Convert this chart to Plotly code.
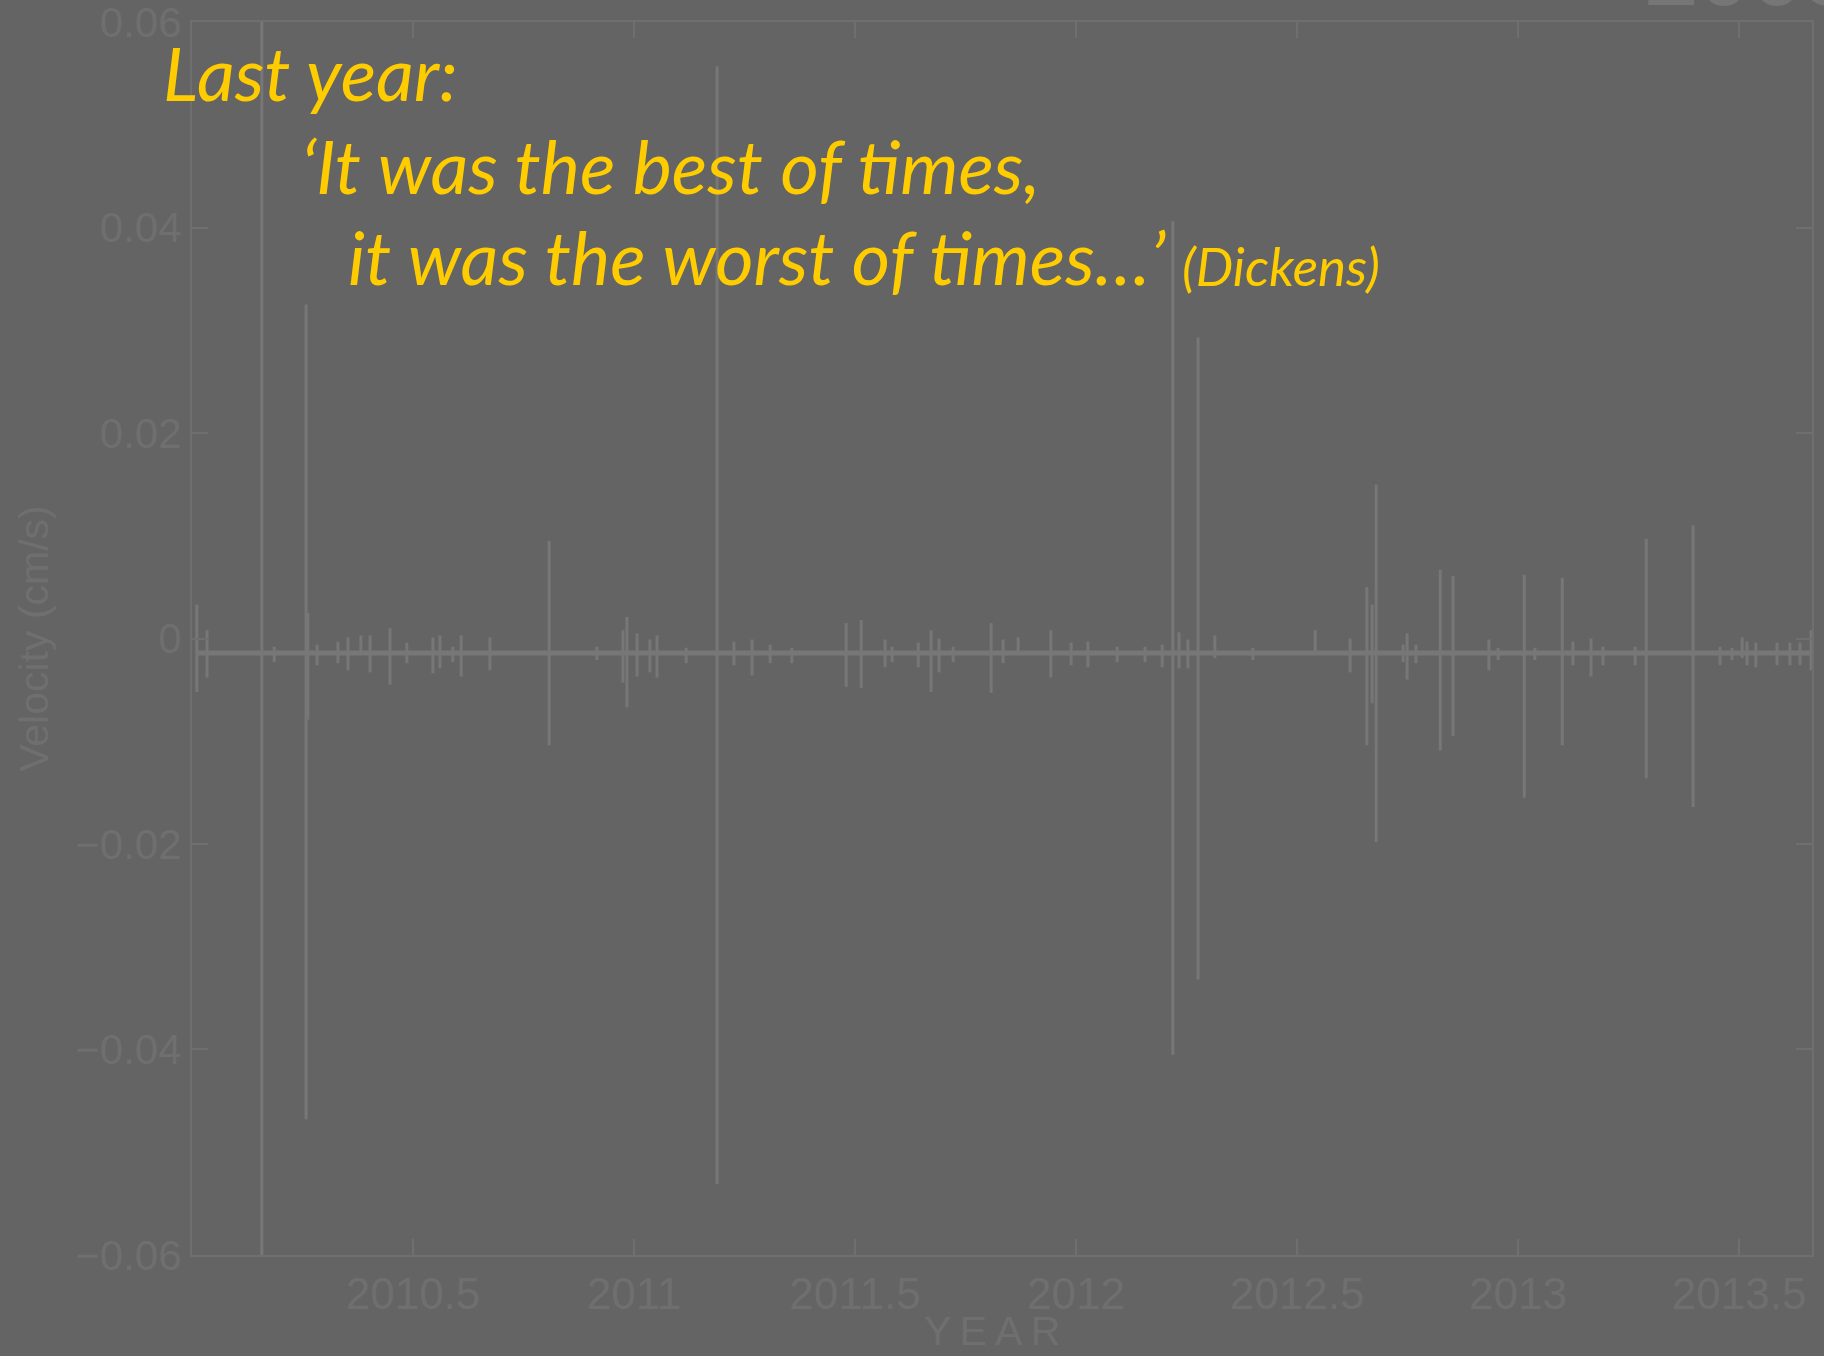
import plotly.graph_objects as go

# velocity record (year, top of spike, bottom of spike) in cm/s
BASELINE = -0.0014
baseline_years = [2010.011, 2013.665]

spike_year = [2010.011, 2010.034, 2010.158, 2010.186, 2010.258, 2010.262, 2010.283, 2010.330,
              2010.353, 2010.382, 2010.403, 2010.448, 2010.486, 2010.545, 2010.561, 2010.590,
              2010.609, 2010.674, 2010.808, 2010.916, 2010.975, 2010.984, 2011.007, 2011.036,
              2011.052, 2011.118, 2011.188, 2011.226, 2011.267, 2011.308, 2011.357, 2011.480,
              2011.514, 2011.568, 2011.584, 2011.643, 2011.672, 2011.690, 2011.722, 2011.808,
              2011.835, 2011.869, 2011.943, 2011.989, 2012.027, 2012.093, 2012.156, 2012.195,
              2012.219, 2012.233, 2012.253, 2012.276, 2012.314, 2012.400, 2012.541, 2012.620,
              2012.658, 2012.670, 2012.679, 2012.740, 2012.749, 2012.769, 2012.824, 2012.853,
              2012.934, 2012.955, 2013.014, 2013.038, 2013.100, 2013.124, 2013.165, 2013.192,
              2013.265, 2013.290, 2013.396, 2013.457, 2013.484, 2013.507, 2013.518, 2013.538,
              2013.586, 2013.615, 2013.638, 2013.663]
spike_top = [0.0033, 0.0008, 0.0800, -0.0008, 0.0325, 0.0025, -0.0006, -0.0003,
             0.0001, 0.0003, 0.0003, 0.0010, -0.0004, 0.0001, 0.0003, -0.0008,
             0.0003, 0.0001, 0.0095, -0.0008, 0.0008, 0.0021, 0.0005, -0.0001,
             0.0003, -0.0009, 0.0557, -0.0003, -0.0001, -0.0006, -0.0009, 0.0015,
             0.0018, -0.0001, -0.0008, -0.0004, 0.0008, 0.0000, -0.0008, 0.0015,
             -0.0001, 0.0001, 0.0008, -0.0004, -0.0003, -0.0008, -0.0008, -0.0006,
             0.0406, 0.0006, -0.0001, 0.0293, 0.0003, -0.0009, 0.0008, 0.0000,
             0.0050, 0.0033, 0.0150, -0.0006, 0.0005, -0.0006, 0.0067, 0.0061,
             -0.0001, -0.0009, 0.0062, -0.0009, 0.0059, -0.0003, 0.0000, -0.0008,
             -0.0008, 0.0097, 0.0110, -0.0008, -0.0009, 0.0001, -0.0003, -0.0004,
             -0.0004, -0.0004, -0.0004, 0.0008]
spike_bottom = [-0.0052, -0.0038, -0.0800, -0.0023, -0.0468, -0.0079, -0.0026, -0.0024,
                -0.0031, -0.0013, -0.0033, -0.0045, -0.0024, -0.0034, -0.0029, -0.0023,
                -0.0037, -0.0031, -0.0104, -0.0021, -0.0043, -0.0067, -0.0037, -0.0033,
                -0.0038, -0.0024, -0.0531, -0.0026, -0.0036, -0.0024, -0.0024, -0.0047,
                -0.0048, -0.0028, -0.0023, -0.0028, -0.0052, -0.0033, -0.0023, -0.0053,
                -0.0024, -0.0013, -0.0038, -0.0026, -0.0028, -0.0023, -0.0023, -0.0028,
                -0.0405, -0.0029, -0.0029, -0.0332, -0.0019, -0.0021, -0.0013, -0.0033,
                -0.0104, -0.0063, -0.0198, -0.0023, -0.0040, -0.0024, -0.0109, -0.0095,
                -0.0031, -0.0021, -0.0155, -0.0021, -0.0104, -0.0026, -0.0037, -0.0026,
                -0.0026, -0.0136, -0.0164, -0.0026, -0.0021, -0.0019, -0.0026, -0.0028,
                -0.0026, -0.0026, -0.0026, -0.0031]

x_ticks = [2010.5, 2011, 2011.5, 2012, 2012.5, 2013, 2013.5]
x_labels = ["2010.5", "2011", "2011.5", "2012", "2012.5", "2013", "2013.5"]
y_ticks = [-0.06, -0.04, -0.02, 0, 0.02, 0.04, 0.06]
y_labels = ["\u22120.06", "\u22120.04", "\u22120.02", "0", "0.02", "0.04", "0.06"]

BG = "#646464"
DATA = "#777777"
AXIS = "#6f6f6f"
YELLOW = "#FFCC00"

W, H = 1824, 1356
ML, MR, MT, MB = 192, 12, 22, 101


def px_x(px):
    return (px - ML) / (W - ML - MR)


def px_y(py):
    return (H - MB - py) / (H - MT - MB)


# spikes as separate vertical segments
sx, sy = [], []
for yr, top, bot in zip(spike_year, spike_top, spike_bottom):
    sx += [yr, yr, None]
    sy += [top, bot, None]

fig = go.Figure()
fig.add_trace(go.Scatter(x=baseline_years, y=[BASELINE] * len(baseline_years), mode="lines",
                         line=dict(color=DATA, width=5), hoverinfo="skip"))
fig.add_trace(go.Scatter(x=sx, y=sy, mode="lines", line=dict(color=DATA, width=3),
                         hoverinfo="skip"))

axis_common = dict(showline=True, linecolor=AXIS, linewidth=2, mirror="ticks",
                   ticks="inside", ticklen=16, tickwidth=2, tickcolor=AXIS,
                   showgrid=False, zeroline=False, ticklabeloverflow="allow",
                   automargin=False)

fig.update_xaxes(range=[2010.0, 2013.665], tickvals=x_ticks, ticktext=x_labels,
                 ticklabelstandoff=-1,
                 tickfont=dict(family="Liberation Sans, Arial", size=44, color=AXIS),
                 **axis_common)
fig.update_yaxes(range=[-0.060001, 0.060001], tickvals=y_ticks, ticktext=y_labels,
                 tickfont=dict(family="Liberation Sans, Arial", size=42, color=AXIS),
                 title=dict(text="Velocity (cm/s)", standoff=14,
                            font=dict(family="Liberation Sans, Arial", size=41, color=AXIS)),
                 **axis_common)

# x title, letter-spaced
fig.add_annotation(text="Y\u2009E\u2009A\u2009R", xref="paper", yref="paper",
                   x=px_x(992), y=px_y(1331), xanchor="center", yanchor="middle",
                   showarrow=False,
                   font=dict(family="Liberation Sans, Arial", size=41, color=AXIS))

quote_font = dict(family="Lato, Noto Sans, sans-serif", size=74, color=YELLOW)
lines = [
    ("<i>Last year:</i>", 161, 73, 74),
    ("<i>\u2018It was the best of times,</i>", 299, 165, 74),
    ("<i>it was the worst of times\u2026\u2019</i>", 346, 256, 74),
    ("<i>(Dickens)</i>", 1180, 265, 53),
]
for text, lx, cy, size in lines:
    fig.add_annotation(text=text, xref="paper", yref="paper", x=px_x(lx), y=px_y(cy),
                       xanchor="left", yanchor="middle", showarrow=False,
                       font=dict(quote_font, size=size))

# big grey caption cut off by the top edge
fig.add_annotation(text="<b>2008</b>", xref="paper", yref="paper", x=px_x(1643), y=px_y(27),
                   xanchor="left", yanchor="bottom", showarrow=False,
                   font=dict(family="Liberation Sans, Arial", size=95, color="#767676"))

fig.update_layout(width=W, height=H, margin=dict(l=ML, r=MR, t=MT, b=MB),
                  paper_bgcolor=BG, plot_bgcolor=BG, showlegend=False)

fig.write_html("out.html", config={"displayModeBar": False},
               post_script="document.body.style.margin='0';document.body.style.background='#646464';")
